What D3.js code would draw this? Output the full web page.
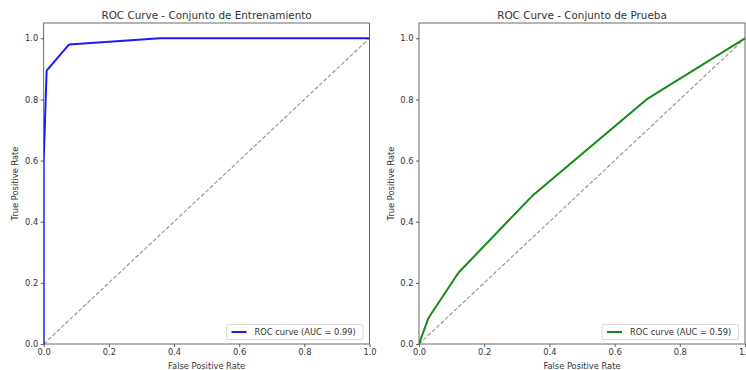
<!DOCTYPE html>
<html><head><meta charset="utf-8">
<script src="https://cdn.jsdelivr.net/npm/d3@7"></script>
<style>
html,body{margin:0;padding:0;background:#fff;}
svg{display:block;font-family:"DejaVu Sans",sans-serif;}
</style></head>
<body>
<svg id="chart" width="746" height="370"></svg>
<script>
const ticks = [0.0, 0.2, 0.4, 0.6, 0.8, 1.0];
const titles = ["ROC Curve - Conjunto de Entrenamiento", "ROC Curve - Conjunto de Prueba"];
const trainFpr = [0, 0, 0.009, 0.078, 0.357, 1.0];
const trainTpr = [0, 0.6, 0.894, 0.98, 1.0, 1.0];
const testFpr = [0, 0.029, 0.121, 0.346, 0.698, 1.0];
const testTpr = [0, 0.085, 0.233, 0.483, 0.80, 1.0];
const aucs = [0.99, 0.59];
const colors = ["#1a1aff", "#128c12"];
const xLabel = "False Positive Rate";
const yLabel = "True Positive Rate";

const svg = d3.select("#chart");
const panels = [
  {x0: 43.7, x1: 369.5, fpr: trainFpr, tpr: trainTpr},
  {x0: 419, x1: 745, fpr: testFpr, tpr: testTpr}
];
const plotTop = 23, plotBottom = 344;
const fs = "8.3px";

panels.forEach((p, i) => {
  const x = d3.scaleLinear().domain([0, 1]).range([p.x0, p.x1]);
  const y = d3.scaleLinear().domain([0, 1.05]).range([plotBottom, plotTop]);
  const g = svg.append("g");
  const cid = "clip" + i;
  svg.append("clipPath").attr("id", cid).append("rect")
    .attr("x", p.x0).attr("y", plotTop).attr("width", p.x1 - p.x0).attr("height", plotBottom - plotTop);

  const line = d3.line().x(d => x(d[0])).y(d => y(d[1]));
  g.append("path").attr("clip-path", `url(#${cid})`)
    .attr("d", line([[0, 0], [1, 1]]))
    .attr("fill", "none").attr("stroke", "#999").attr("stroke-width", 1.2)
    .attr("stroke-dasharray", "4,2");
  const pts = p.fpr.map((f, k) => [f, p.tpr[k]]);
  g.append("path").attr("clip-path", `url(#${cid})`)
    .attr("d", line(pts))
    .attr("fill", "none").attr("stroke", colors[i]).attr("stroke-width", 2)
    .attr("stroke-linejoin", "round");

  const xa = g.append("g").attr("transform", `translate(0,${plotBottom})`)
    .call(d3.axisBottom(x).tickValues(ticks).tickFormat(d3.format(".1f")).tickSize(3).tickPadding(2));
  const ya = g.append("g").attr("transform", `translate(${p.x0},0)`)
    .call(d3.axisLeft(y).tickValues(ticks).tickFormat(d3.format(".1f")).tickSize(3).tickPadding(2.5));
  [xa, ya].forEach(a => {
    a.select(".domain").remove();
    a.selectAll("line").attr("stroke", "#333").attr("stroke-width", 0.8);
    a.selectAll("text").attr("fill", "#333").style("font-size", fs).style("font-family", "DejaVu Sans");
  });
  g.append("rect").attr("x", p.x0).attr("y", plotTop).attr("width", p.x1 - p.x0).attr("height", plotBottom - plotTop)
    .attr("fill", "none").attr("stroke", "#444").attr("stroke-width", 0.8);

  g.append("text").attr("x", (p.x0 + p.x1) / 2).attr("y", 18.5).attr("text-anchor", "middle")
    .style("font-size", "10.4px").attr("fill", "#333").text(titles[i]);
  g.append("text").attr("x", (p.x0 + p.x1) / 2).attr("y", 369).attr("text-anchor", "middle")
    .style("font-size", fs).attr("fill", "#333").text(xLabel);
  g.append("text").attr("transform", `translate(${p.x0 - 25.5},${(plotTop + plotBottom) / 2}) rotate(-90)`)
    .attr("text-anchor", "middle").style("font-size", fs).attr("fill", "#333").text(yLabel);

  const lw = 136.5, lh = 15;
  const lx = p.x1 - 6.5 - lw, ly = plotBottom - 4.5 - lh;
  const lg = g.append("g");
  lg.append("rect").attr("x", lx).attr("y", ly).attr("width", lw).attr("height", lh)
    .attr("rx", 2).attr("fill", "#fff").attr("fill-opacity", 0.8)
    .attr("stroke", "#d0d0d0").attr("stroke-width", 0.8);
  lg.append("line").attr("x1", lx + 5).attr("x2", lx + 20).attr("y1", ly + lh / 2).attr("y2", ly + lh / 2)
    .attr("stroke", colors[i]).attr("stroke-width", 2);
  lg.append("text").attr("x", lx + 28).attr("y", ly + lh / 2).attr("dy", "0.35em")
    .style("font-size", fs).attr("fill", "#333")
    .text(`ROC curve (AUC = ${aucs[i].toFixed(2)})`);
});
</script>
</body></html>
